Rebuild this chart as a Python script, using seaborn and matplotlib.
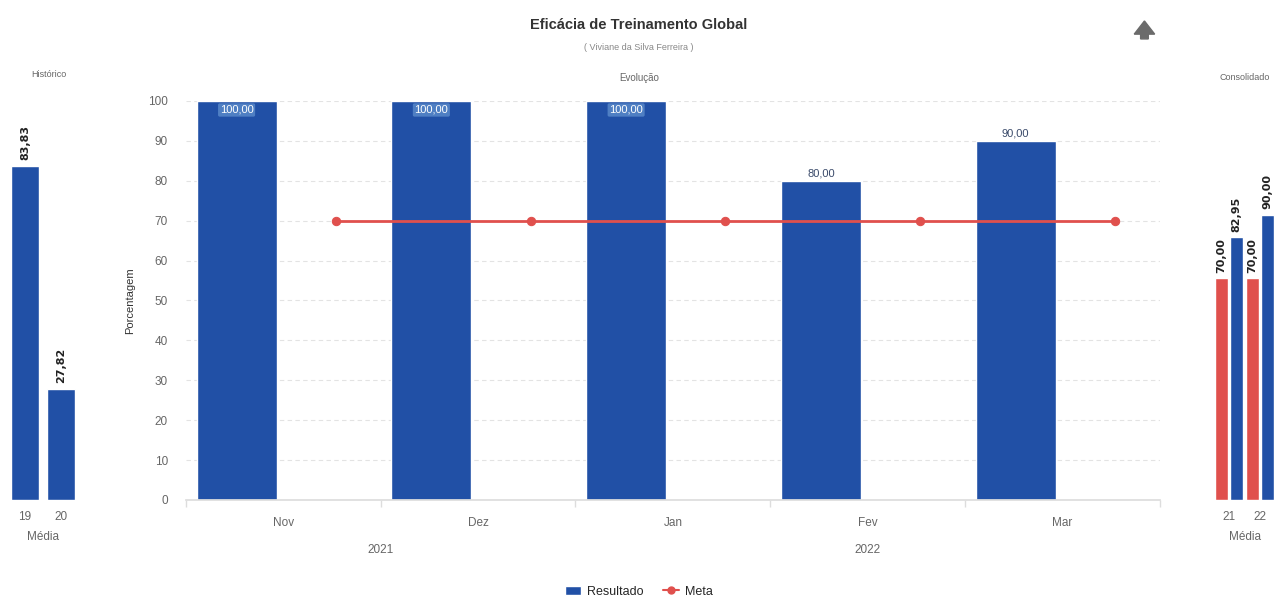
import numpy as np
import pandas as pd
import matplotlib
matplotlib.use("Agg")
import matplotlib.pyplot as plt
import seaborn as sns
from matplotlib.lines import Line2D
from matplotlib.patches import Patch, FancyArrow

# data
hist_years = ["19", "20"]
hist_vals = [83.83, 27.82]

months = ["Nov", "Dez", "Jan", "Fev", "Mar"]
years = ["2021", "2022"]
resultado = [100.00, 100.00, 100.00, 80.00, 90.00]
meta = [70.00, 70.00, 70.00, 70.00, 70.00]

cons_years = ["21", "22"]
cons_meta = [70.00, 70.00]
cons_result = [82.95, 90.00]

BLUE = "#2150a6"
RED = "#e0504d"
GRAY = "#666666"

sns.set_theme(style="white")
plt.rcParams["font.family"] = ["Liberation Sans", "DejaVu Sans"]

fig = plt.figure(figsize=(12.78, 5.99), dpi=100)

# ---- main chart
ax = fig.add_axes([0.1455, 0.1653, 0.762, 0.6661])
idx = np.arange(len(months))
bar_pos = idx - 0.24
meta_pos = idx + 0.27
sns.barplot(x=bar_pos, y=resultado, native_scale=True, width=0.41, orient="x",
            color=BLUE, saturation=1, ax=ax)
sns.lineplot(x=meta_pos, y=meta, color=RED, linewidth=2, marker="o",
             markersize=6, markeredgecolor=RED, ax=ax)
ax.set_xlim(-0.5, len(months) - 0.5)
ax.set_ylim(0, 100)
ax.set_yticks(range(0, 101, 10))
ax.yaxis.grid(True, color="#e3e3e3", linestyle=(0, (4, 3)), linewidth=0.8)
ax.set_axisbelow(True)
for s in ["top", "right", "left"]:
    ax.spines[s].set_visible(False)
ax.spines["bottom"].set_color("#dddddd")
ax.set_xticks(idx)
ax.set_xticklabels(months)
ax.set_xticks(np.arange(-0.5, len(months), 1), minor=True)
ax.tick_params(axis="x", which="major", length=0, pad=12, labelsize=8.5, labelcolor=GRAY)
ax.tick_params(axis="x", which="minor", length=5, color="#dddddd", bottom=True)
ax.tick_params(axis="y", length=0, pad=13, labelsize=8.5, labelcolor=GRAY)
ax.set_xlabel("")
ax.set_ylabel("Porcentagem", fontsize=8, color="#333333", labelpad=9)
ax.text(0.5, -0.11, years[0], transform=ax.get_xaxis_transform(), ha="center",
        va="top", fontsize=8.5, color=GRAY)
ax.text(3, -0.11, years[1], transform=ax.get_xaxis_transform(), ha="center",
        va="top", fontsize=8.5, color=GRAY)
for x, v in zip(bar_pos, resultado):
    lbl = f"{v:.2f}".replace(".", ",")
    if v >= 98:
        ax.text(x, v - 1, lbl, ha="center", va="top", fontsize=8, color="white",
                bbox=dict(boxstyle="round,pad=0.15", fc="#6f9fd8", ec="none", alpha=0.6))
    else:
        ax.text(x, v + 0.5, lbl, ha="center", va="bottom", fontsize=8, color="#3a4a6a")
ax.get_legend() and ax.get_legend().remove()

lbl_font = dict(rotation=90, padding=4, fontsize=8, fontweight="bold",
                color="#222222", family="DejaVu Sans")

# ---- historico
axl = fig.add_axes([0.0055, 0.1653, 0.0563, 0.6661])
sns.barplot(x=hist_years, y=hist_vals, color=BLUE, saturation=1, width=0.8, ax=axl)
axl.set_ylim(0, 100)
axl.bar_label(axl.containers[0], labels=[f"{v:.2f}".replace(".", ",") for v in hist_vals],
              **lbl_font)
axl.set_yticks([])
for s in axl.spines.values():
    s.set_visible(False)
axl.tick_params(axis="x", length=0, pad=8, labelsize=8.5, labelcolor=GRAY)
axl.set_xlabel("Média", fontsize=8.5, color=GRAY, labelpad=6)
axl.set_ylabel("")

# ---- consolidado
cons_df = pd.DataFrame({
    "ano": cons_years + cons_years,
    "serie": ["Meta"] * len(cons_years) + ["Resultado"] * len(cons_years),
    "valor": cons_meta + cons_result,
})
axr = fig.add_axes([0.9495, 0.1653, 0.0486, 0.6661])
sns.barplot(data=cons_df, x="ano", y="valor", hue="serie", palette=[RED, BLUE],
            saturation=1, width=0.95, gap=0.12, ax=axr, legend=False)
axr.set_ylim(0, 126)
for c in axr.containers:
    axr.bar_label(c, labels=[f"{b.get_height():.2f}".replace(".", ",") for b in c],
                  **lbl_font)
axr.set_yticks([])
for s in axr.spines.values():
    s.set_visible(False)
axr.tick_params(axis="x", length=0, pad=8, labelsize=8.5, labelcolor=GRAY)
axr.set_xlabel("Média", fontsize=8.5, color=GRAY, labelpad=6)
axr.set_ylabel("")

# ---- titles
fig.text(0.5, 0.958, "Eficácia de Treinamento Global", ha="center", va="center",
         fontsize=10.5, fontweight="bold", color="#333333")
fig.text(0.5, 0.921, "( Viviane da Silva Ferreira )", ha="center", va="center",
         fontsize=6.5, color="#888888")
fig.text(0.5, 0.870, "Evolução", ha="center", va="center", fontsize=7, color=GRAY)
fig.text(0.038, 0.875, "Histórico", ha="center", va="center", fontsize=6.5, color=GRAY)
fig.text(0.974, 0.870, "Consolidado", ha="center", va="center", fontsize=6.5, color=GRAY)

fig.add_artist(FancyArrow(0.8955, 0.935, 0, 0.03, width=0.006, head_width=0.016,
                          head_length=0.022, length_includes_head=True,
                          color="#6b6b6b", transform=fig.transFigure))

handles = [Patch(facecolor=BLUE, label="Resultado"),
           Line2D([0], [0], color=RED, marker="o", markersize=5, linewidth=1.5, label="Meta")]
fig.legend(handles=handles, loc="center", bbox_to_anchor=(0.5, 0.012), ncol=2,
           frameon=False, fontsize=9, handlelength=1.3, columnspacing=1.5,
           handletextpad=0.5)

fig.savefig("out.png", dpi=100)
